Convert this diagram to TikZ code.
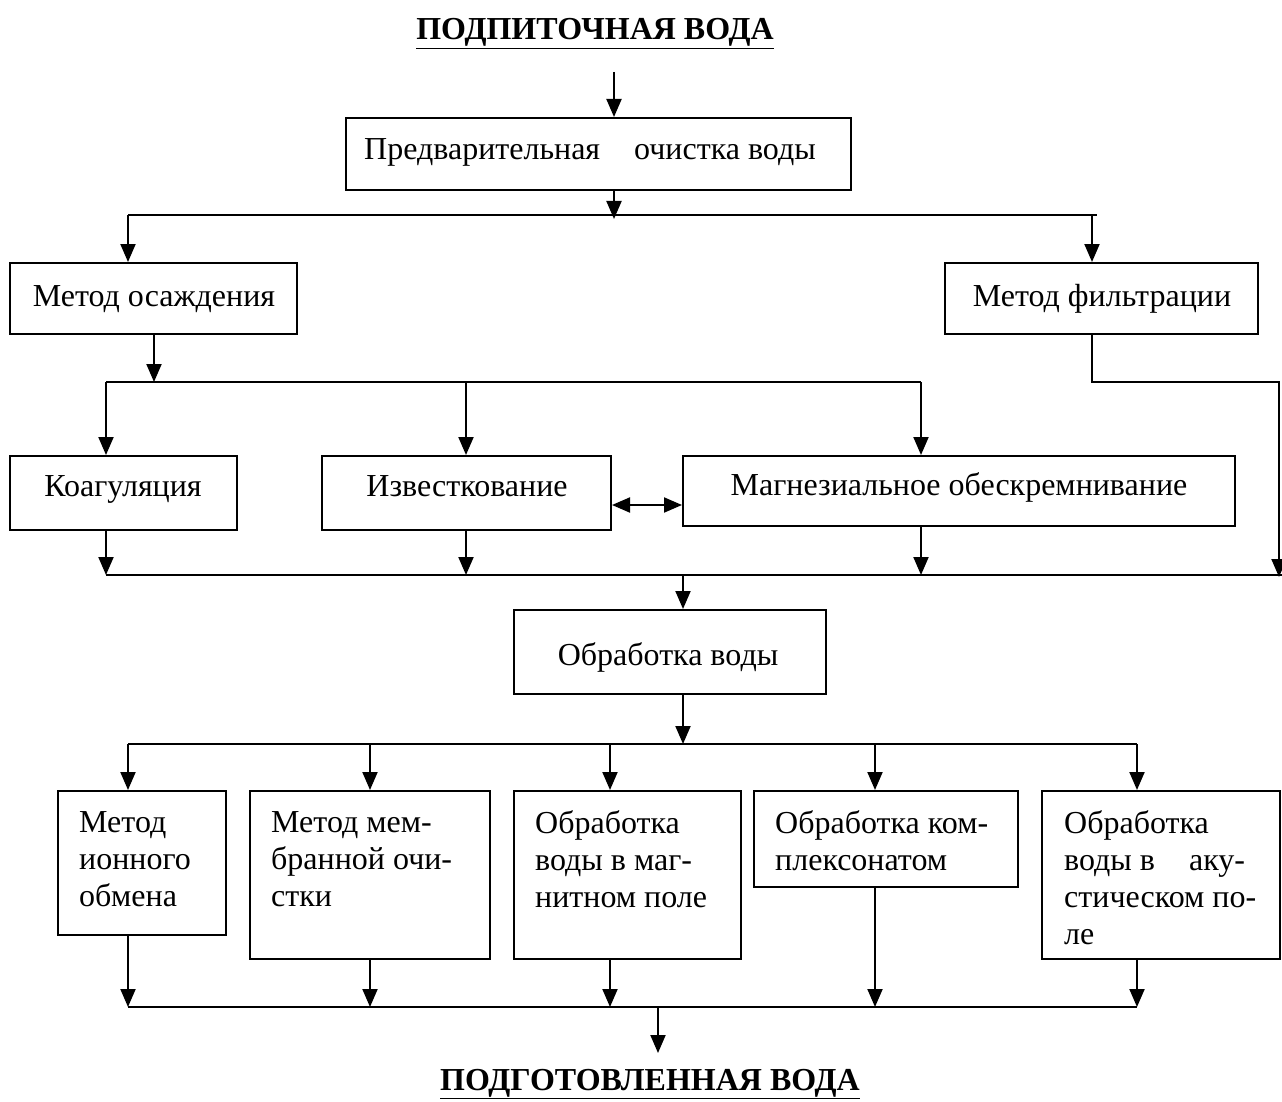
\documentclass[tikz,border=0pt]{standalone}
\usepackage{fontspec}
\setmainfont{Liberation Serif}
\usetikzlibrary{arrows.meta}
\begin{document}
\begin{tikzpicture}[x=1pt,y=-1pt,
  box/.style={draw, line width=2pt, inner sep=0pt},
  tx/.style={font=\fontsize{32}{37}\selectfont, inner sep=0pt},
  ttl/.style={font=\fontsize{32}{37}\selectfont\bfseries, inner sep=0pt},
  ln/.style={line width=2pt},
  arr/.style={line width=2pt, -{Triangle[length=18pt,width=15pt]}},
  dbl/.style={line width=2pt, {Triangle[length=18pt,width=15pt]}-{Triangle[length=18pt,width=15pt]}}]
\useasboundingbox (0,0) rectangle (1282,1102);

% boxes
\node[box, minimum width=505pt, minimum height=72pt] (pre) at (598.5,154) {};
\node[box, minimum width=287pt, minimum height=71pt] (osa) at (153.5,298.5) {};
\node[box, minimum width=313pt, minimum height=71pt] (fil) at (1101.5,298.5) {};
\node[box, minimum width=227pt, minimum height=74pt] (koa) at (123.5,493) {};
\node[box, minimum width=289pt, minimum height=74pt] (izv) at (466.5,493) {};
\node[box, minimum width=552pt, minimum height=70pt] (mag) at (959,491) {};
\node[box, minimum width=312pt, minimum height=84pt] (obr) at (670,652) {};
\node[box, minimum width=168pt, minimum height=144pt] (q1) at (142,863) {};
\node[box, minimum width=240pt, minimum height=168pt] (q2) at (370,875) {};
\node[box, minimum width=227pt, minimum height=168pt] (q3) at (627.5,875) {};
\node[box, minimum width=264pt, minimum height=96pt] (q4) at (886,839) {};
\node[box, minimum width=238pt, minimum height=168pt] (q5) at (1161,875) {};

% texts
\node[ttl, anchor=base] (top) at (595,40) {\underline{ПОДПИТОЧНАЯ ВОДА}};
\node[tx, anchor=base] (tpre) at (590,160) {Предварительная\hspace{34pt}очистка воды};
\node[tx, anchor=base] (tosa) at (154,306) {Метод осаждения};
\node[tx, anchor=base] (tfil) at (1102,306) {Метод фильтрации};
\node[tx, anchor=base] (tkoa) at (123,496) {Коагуляция};
\node[tx, anchor=base] (tizv) at (467,496) {Известкование};
\node[tx, anchor=base] (tmag) at (959,495) {Магнезиальное обескремнивание};
\node[tx, anchor=base] (tobr) at (668,665) {Обработка воды};
\node[tx, anchor=north west, align=left] (tq1) at (79,811) {Метод\\ионного\\обмена};
\node[tx, anchor=north west, align=left] (tq2) at (271,811) {Метод мем-\\бранной очи-\\стки};
\node[tx, anchor=north west, align=left] (tq3) at (535,810) {Обработка\\воды в маг-\\нитном поле};
\node[tx, anchor=north west, align=left] (tq4) at (775,810) {Обработка ком-\\плексонатом};
\node[tx, anchor=north west, align=left] (tq5) at (1064,810) {Обработка\\воды в\hspace{34pt}аку-\\стическом по-\\ле};
\node[ttl, anchor=base] (bot) at (650,1090) {\underline{ПОДГОТОВЛЕННАЯ ВОДА}};

% top connectors
\coordinate (a0) at (614,72);
\draw[arr] (a0) -- (a0 |- pre.north);
\coordinate (b1L) at (128,215);
\coordinate (b1R) at (1097,215);
\coordinate (d1) at (614,219);
\draw[ln] (b1L) -- (b1R);
\draw[arr] (pre.south -| a0) -- (d1);
\draw[arr] (b1L) -- (b1L |- osa.north);
\coordinate (f1) at (1092,215);
\draw[arr] (f1) -- (f1 |- fil.north);

% second level
\coordinate (b2L) at (106,382);
\coordinate (b2R) at (921,382);
\coordinate (o1) at (154,382);
\coordinate (i1) at (466,382);
\draw[arr] (osa.south -| o1) -- (o1);
\draw[ln] (b2L) -- (b2R);
\draw[arr] (b2L) -- (b2L |- koa.north);
\draw[arr] (i1) -- (i1 |- izv.north);
\draw[arr] (b2R) -- (b2R |- mag.north);
\coordinate (fr1) at (1092,382);
\coordinate (fr2) at (1279,382);
\coordinate (fr3) at (1279,577);
\draw[arr] (fil.south -| fr1) -- (fr1) -- (fr2) -- (fr3);
\coordinate (dy) at (0,505);
\draw[dbl] (izv.east |- dy) -- (mag.west |- dy);

% third bus
\coordinate (b3L) at (106,575);
\coordinate (b3R) at (1282,575);
\coordinate (i2) at (466,575);
\coordinate (m2) at (921,575);
\coordinate (c1) at (683,575);
\coordinate (c2) at (683,744);
\draw[ln] (b3L) -- (b3R);
\draw[arr] (koa.south -| b3L) -- (b3L);
\draw[arr] (izv.south -| i2) -- (i2);
\draw[arr] (mag.south -| m2) -- (m2);
\draw[arr] (c1) -- (c1 |- obr.north);
\draw[arr] (obr.south -| c2) -- (c2);

% bottom buses
\coordinate (u1) at (128,744);
\coordinate (u2) at (370,744);
\coordinate (u3) at (610,744);
\coordinate (u4) at (875,744);
\coordinate (u5) at (1137,744);
\coordinate (w1) at (128,1007);
\coordinate (w2) at (370,1007);
\coordinate (w3) at (610,1007);
\coordinate (w4) at (875,1007);
\coordinate (w5) at (1137,1007);
\draw[ln] (u1) -- (u5);
\draw[ln] (w1) -- (w5);
\draw[arr] (u1) -- (u1 |- q1.north);
\draw[arr] (u2) -- (u2 |- q2.north);
\draw[arr] (u3) -- (u3 |- q3.north);
\draw[arr] (u4) -- (u4 |- q4.north);
\draw[arr] (u5) -- (u5 |- q5.north);
\draw[arr] (q1.south -| w1) -- (w1);
\draw[arr] (q2.south -| w2) -- (w2);
\draw[arr] (q3.south -| w3) -- (w3);
\draw[arr] (q4.south -| w4) -- (w4);
\draw[arr] (q5.south -| w5) -- (w5);
\coordinate (e1) at (658,1007);
\coordinate (e2) at (658,1053);
\draw[arr] (e1) -- (e2);
\end{tikzpicture}
\end{document}
